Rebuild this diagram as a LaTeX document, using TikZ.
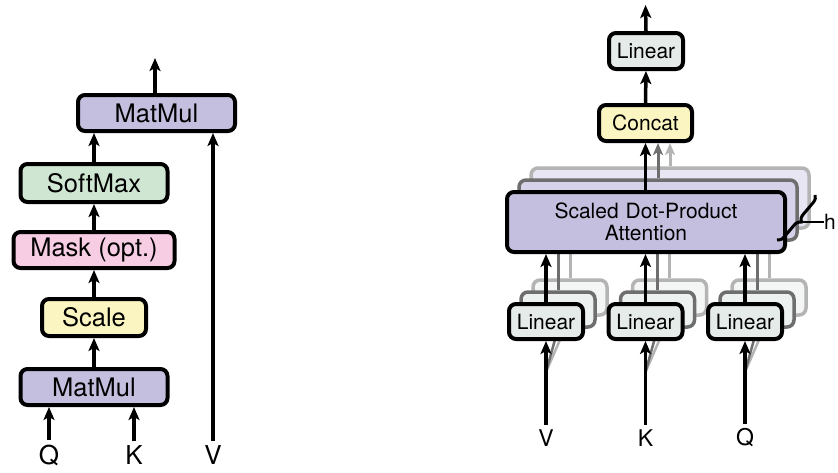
\documentclass[tikz,border=0pt]{standalone}
\usepackage{fontspec}
\setmainfont{TeX Gyre Heros}
\usetikzlibrary{arrows.meta,decorations.pathreplacing}
\definecolor{mmfill}{HTML}{C5BFDF}
\definecolor{smfill}{HTML}{CFE7D2}
\definecolor{mkfill}{HTML}{F6CDE2}
\definecolor{scfill}{HTML}{FBF5C1}
\definecolor{lnfill}{HTML}{E5EBE9}
\definecolor{attA}{HTML}{D6D2EA}
\definecolor{attB}{HTML}{E8E6F3}
\definecolor{linA}{HTML}{EDF1EF}
\definecolor{linB}{HTML}{F4F6F5}
\definecolor{edgeA}{HTML}{6E6E6E}
\definecolor{edgeB}{HTML}{B4B4B4}
\begin{document}
\begin{tikzpicture}[x=1pt,y=-1pt,
  blk/.style={draw=black, line width=4pt, rounded corners=7pt, inner sep=0pt, align=center},
  bigtxt/.style={font=\fontsize{25.5}{28}\selectfont},
  smalltxt/.style={font=\fontsize{21}{24}\selectfont},
  arr/.style={line width=3.5pt, -{Stealth[length=13pt,width=11pt,inset=3pt]}},
  garr/.style={line width=3pt, -{Stealth[length=12pt,width=10pt,inset=3pt]}},
  lbl/.style={inner sep=0pt, outer sep=5pt},
]
\useasboundingbox (0,0) rectangle (838,472);

% ---------------- Scaled Dot-Product Attention ----------------
\node[blk, bigtxt, fill=mmfill, minimum width=157, minimum height=36] (mmtop) at (156.5,113) {MatMul};
\node[blk, bigtxt, fill=smfill, minimum width=147, minimum height=38] (soft) at (94,183) {SoftMax};
\node[blk, bigtxt, fill=mkfill, minimum width=161, minimum height=36] (mask) at (94,250) {Mask (opt.)};
\node[blk, bigtxt, fill=scfill, minimum width=104, minimum height=37] (scale) at (94,317.5) {Scale};
\node[blk, bigtxt, fill=mmfill, minimum width=147, minimum height=36] (mmbot) at (94,387) {MatMul};

\node[lbl, font=\fontsize{26}{30}\selectfont] (ql) at (49,455) {Q};
\node[lbl, font=\fontsize{26}{30}\selectfont] (kl) at (134,455) {K};
\node[lbl, font=\fontsize{26}{30}\selectfont] (vl) at (213,455) {V};
\coordinate (outL) at (155,58);

\draw[arr] (ql.north) -- (ql.north |- mmbot.south);
\draw[arr] (kl.north) -- (kl.north |- mmbot.south);
\draw[arr] (vl.north) -- (vl.north |- mmtop.south);
\draw[arr] (mmbot.north) -- (scale.south);
\draw[arr] (scale.north) -- (mask.south);
\draw[arr] (mask.north) -- (soft.south);
\draw[arr] (soft.north) -- (soft.north |- mmtop.south);
\draw[arr] (mmtop.north -| outL) -- (outL);

% ---------------- Multi-Head Attention ----------------
% stacked heads behind the front one
\foreach \k/\ec/\fa/\fl in {2/edgeB/attB/linB, 1/edgeA/attA/linA}{
  \node[blk, draw=\ec, line width=3.5pt, fill=\fa, minimum width=278, minimum height=60]
    (att\k) at (646+12*\k, 222-12*\k) {};
  \node[blk, draw=\ec, line width=3.5pt, fill=\fl, minimum width=74, minimum height=35]
    (linV\k) at (546+12*\k, 321.5-12*\k) {};
  \node[blk, draw=\ec, line width=3.5pt, fill=\fl, minimum width=74, minimum height=35]
    (linK\k) at (645.5+12*\k, 321.5-12*\k) {};
  \node[blk, draw=\ec, line width=3.5pt, fill=\fl, minimum width=74, minimum height=35]
    (linQ\k) at (745+12*\k, 321.5-12*\k) {};
  \draw[\ec, line width=3pt] (linV\k.north) -- (linV\k.north |- att\k.south);
  \draw[\ec, line width=3pt] (linK\k.north) -- (linK\k.north |- att\k.south);
  \draw[\ec, line width=3pt] (linQ\k.north) -- (linQ\k.north |- att\k.south);
  \coordinate (vs\k) at (546,372);
  \coordinate (ks\k) at (645.5,372);
  \coordinate (qs\k) at (745,372);
  \draw[\ec, line width=2.5pt] (vs\k) -- (linV\k.south);
  \draw[\ec, line width=2.5pt] (ks\k) -- (linK\k.south);
  \draw[\ec, line width=2.5pt] (qs\k) -- (linQ\k.south);
}

% front head
\node[blk, smalltxt, fill=lnfill, minimum width=74, minimum height=36] (linout) at (646,51) {Linear};
\node[blk, smalltxt, fill=scfill, minimum width=93, minimum height=36] (concat) at (645.5,123) {Concat};
\node[blk, smalltxt, fill=mmfill, minimum width=278, minimum height=60, text width=260] (att) at (646,222) {Scaled Dot-Product\\[-2pt]Attention};
\node[blk, smalltxt, fill=lnfill, minimum width=74, minimum height=35] (linV) at (546,321.5) {Linear};
\node[blk, smalltxt, fill=lnfill, minimum width=74, minimum height=35] (linK) at (645.5,321.5) {Linear};
\node[blk, smalltxt, fill=lnfill, minimum width=74, minimum height=35] (linQ) at (745,321.5) {Linear};

\draw[garr, edgeB] (att2.north) -- (att2.north |- concat.south);
\draw[garr, edgeA] (att1.north) -- (att1.north |- concat.south);

\node[lbl, font=\fontsize{23}{26}\selectfont] (vr) at (546,438) {V};
\node[lbl, font=\fontsize{23}{26}\selectfont] (kr) at (645.5,438) {K};
\node[lbl, font=\fontsize{23}{26}\selectfont] (qr) at (745,438) {Q};
\coordinate (outR) at (645.5,5);

\draw[arr] (vr.north) -- (linV.south);
\draw[arr] (kr.north) -- (linK.south);
\draw[arr] (qr.north) -- (linQ.south);
\draw[arr] (linV.north) -- (linV.north |- att.south);
\draw[arr] (linK.north) -- (linK.north |- att.south);
\draw[arr] (linQ.north) -- (linQ.north |- att.south);
\draw[arr] (att.north -| concat.south) -- (concat.south);
\draw[arr] (concat.north) -- (linout.south);
\draw[arr] (linout.north) -- (outR);

% brace marking the h heads
\coordinate (brA) at (815,195);
\coordinate (brB) at (777,240);
\draw[line width=3pt, decorate, decoration={brace, amplitude=7pt}] (brA) -- (brB);
\coordinate (brT) at (801,222);
\node[lbl, outer sep=0pt, anchor=west, font=\fontsize{21}{24}\selectfont] (hl) at (824,222) {h};
\draw[line width=1.8pt] (brT) -- (hl.west);
\end{tikzpicture}
\end{document}
